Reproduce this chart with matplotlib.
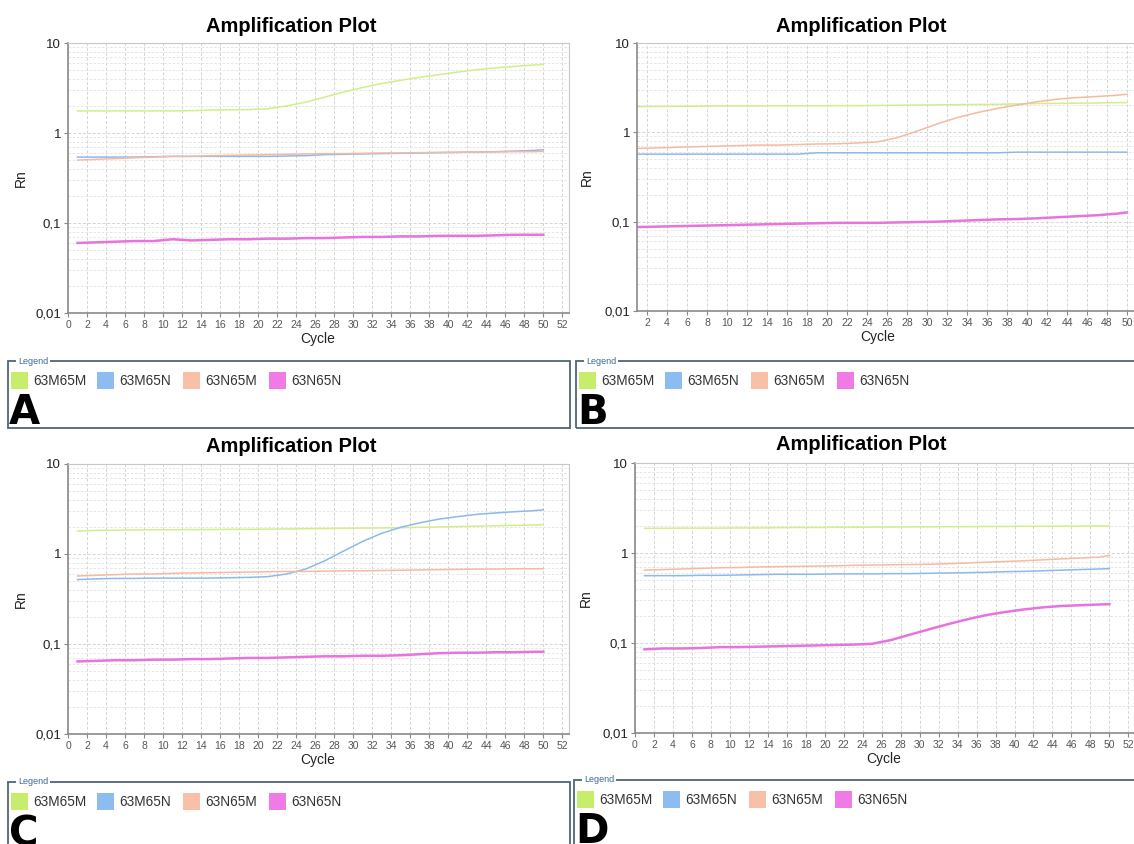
import matplotlib
matplotlib.use("Agg")
import matplotlib.pyplot as plt
from matplotlib import ticker
from matplotlib.patches import Rectangle

W, H = 1134, 844

cycles = [1, 3, 5, 7, 9, 11, 13, 15, 17, 19, 21, 23, 25, 27, 29, 31, 33, 35, 37, 39, 41, 43, 45, 47, 49, 50]
series_names = ["63M65M", "63M65N", "63N65M", "63N65N"]
series_colors = ["#d2ee88", "#8cb9ec", "#f6baa0", "#e873dc"]
patch_colors = ["#c6ee6c", "#8dbcf0", "#f9c0a8", "#f07ae6"]

# panel A
a_m65m = [1.76, 1.76, 1.76, 1.76, 1.76, 1.76, 1.77, 1.80, 1.81, 1.82, 1.86, 2.0, 2.2, 2.5, 2.85, 3.2,
          3.55, 3.85, 4.15, 4.45, 4.75, 5.05, 5.3, 5.5, 5.7, 5.8]
a_m65n = [0.54, 0.54, 0.54, 0.54, 0.545, 0.55, 0.55, 0.55, 0.55, 0.55, 0.55, 0.555, 0.56, 0.575, 0.58,
          0.585, 0.59, 0.595, 0.6, 0.605, 0.61, 0.615, 0.62, 0.63, 0.64, 0.65]
a_n65m = [0.50, 0.51, 0.52, 0.53, 0.54, 0.55, 0.55, 0.56, 0.565, 0.57, 0.575, 0.58, 0.585, 0.59, 0.59,
          0.595, 0.6, 0.6, 0.605, 0.61, 0.61, 0.615, 0.615, 0.62, 0.62, 0.625]
a_n65n = [0.060, 0.061, 0.062, 0.063, 0.063, 0.066, 0.064, 0.065, 0.066, 0.066, 0.067, 0.067, 0.068,
          0.068, 0.069, 0.070, 0.070, 0.071, 0.071, 0.072, 0.072, 0.072, 0.073, 0.074, 0.074, 0.074]

# panel B
b_m65m = [1.94, 1.95, 1.96, 1.96, 1.97, 1.97, 1.97, 1.98, 1.98, 1.98, 1.99, 1.99, 2.0, 2.01, 2.02, 2.03,
          2.04, 2.05, 2.06, 2.08, 2.1, 2.11, 2.12, 2.13, 2.15, 2.15]
b_m65n = [0.57, 0.57, 0.57, 0.57, 0.57, 0.57, 0.57, 0.57, 0.57, 0.59, 0.59, 0.59, 0.59, 0.59, 0.59,
          0.59, 0.59, 0.59, 0.59, 0.6, 0.6, 0.6, 0.6, 0.6, 0.6, 0.6]
b_n65m = [0.66, 0.67, 0.68, 0.69, 0.7, 0.71, 0.72, 0.72, 0.73, 0.74, 0.745, 0.76, 0.78, 0.87, 1.03, 1.24,
          1.46, 1.66, 1.85, 2.02, 2.2, 2.35, 2.45, 2.52, 2.6, 2.67]
b_n65n = [0.087, 0.088, 0.089, 0.090, 0.091, 0.092, 0.093, 0.094, 0.095, 0.096, 0.097, 0.097, 0.097,
          0.098, 0.099, 0.100, 0.102, 0.104, 0.106, 0.107, 0.109, 0.112, 0.115, 0.118, 0.123, 0.127]

# panel C
c_m65m = [1.8, 1.83, 1.84, 1.85, 1.86, 1.86, 1.87, 1.87, 1.88, 1.88, 1.89, 1.9, 1.91, 1.92, 1.93, 1.94,
          1.95, 1.96, 1.98, 2.0, 2.02, 2.04, 2.06, 2.08, 2.1, 2.12]
c_m65n = [0.52, 0.53, 0.535, 0.535, 0.54, 0.54, 0.54, 0.54, 0.545, 0.55, 0.56, 0.6, 0.68, 0.84, 1.08,
          1.38, 1.7, 1.98, 2.22, 2.44, 2.6, 2.76, 2.86, 2.95, 3.03, 3.1]
c_n65m = [0.57, 0.58, 0.59, 0.6, 0.6, 0.61, 0.615, 0.62, 0.625, 0.63, 0.635, 0.64, 0.64, 0.645, 0.65,
          0.65, 0.655, 0.66, 0.665, 0.67, 0.675, 0.68, 0.68, 0.685, 0.685, 0.687]
c_n65n = [0.064, 0.065, 0.066, 0.066, 0.067, 0.067, 0.068, 0.068, 0.069, 0.070, 0.070, 0.071, 0.072,
          0.073, 0.073, 0.074, 0.074, 0.075, 0.077, 0.079, 0.080, 0.080, 0.081, 0.081, 0.082, 0.082]

# panel D
d_m65m = [1.88, 1.88, 1.89, 1.89, 1.89, 1.9, 1.9, 1.91, 1.92, 1.92, 1.93, 1.93, 1.94, 1.94, 1.95, 1.95,
          1.96, 1.96, 1.97, 1.97, 1.98, 1.98, 1.99, 1.99, 2.0, 2.0]
d_m65n = [0.56, 0.56, 0.56, 0.565, 0.565, 0.57, 0.575, 0.58, 0.58, 0.58, 0.585, 0.585, 0.585, 0.59,
          0.59, 0.595, 0.6, 0.605, 0.61, 0.62, 0.625, 0.635, 0.645, 0.655, 0.665, 0.67]
d_n65m = [0.645, 0.655, 0.665, 0.675, 0.685, 0.69, 0.7, 0.705, 0.71, 0.715, 0.72, 0.73, 0.735, 0.74,
          0.745, 0.75, 0.76, 0.775, 0.79, 0.805, 0.82, 0.84, 0.86, 0.88, 0.9, 0.94]
d_n65n = [0.085, 0.087, 0.087, 0.088, 0.09, 0.09, 0.091, 0.092, 0.093, 0.094, 0.095, 0.096, 0.098, 0.108,
          0.124, 0.142, 0.162, 0.183, 0.204, 0.221, 0.236, 0.249, 0.258, 0.263, 0.268, 0.27]

panel_letters = ["A", "B", "C", "D"]
panel_data = [
    [a_m65m, a_m65n, a_n65m, a_n65n],
    [b_m65m, b_m65n, b_n65m, b_n65n],
    [c_m65m, c_m65n, c_n65m, c_n65n],
    [d_m65m, d_m65n, d_n65m, d_n65n],
]

# pixel boxes (left, top, right, bottom) of plot areas
axes_px = [(68, 43, 569, 313), (637, 43, 1157, 311), (68, 464, 569, 734), (635, 463, 1135, 733)]
xlims = [(0, 52.7), (1, 53), (0, 52.7), (0, 52.7)]
title_px = [(291, 26), (861, 26), (291, 447), (861, 445)]
rn_x = [28, 594, 28, 593]
cycle_x = [318, 878, 318, 884]
legend_px = [(8, 361, 570, 428), (576, 361, 1140, 428), (8, 782, 570, 860), (574, 780, 1140, 860)]

plt.rcParams['font.family'] = ['Liberation Sans', 'DejaVu Sans']

fig = plt.figure(figsize=(W / 100, H / 100), dpi=100)
fig.patch.set_facecolor("white")


def fx(px):
    return px / W


def fy(py):
    return 1 - py / H


for i in range(4):
    l, t, r, b = axes_px[i]
    ax = fig.add_axes([fx(l), fy(b), (r - l) / W, (b - t) / H])
    for k in range(4):
        lw = 1.8 if k == 3 else 1.1
        ax.plot(cycles, panel_data[i][k], color=series_colors[k], lw=lw)
    ax.set_yscale("log")
    ax.set_ylim(0.01, 10)
    ax.set_xlim(*xlims[i])
    start = 0 if xlims[i][0] <= 0 else 2
    ax.set_xticks(list(range(start, 53, 2)))
    ax.xaxis.set_minor_locator(ticker.NullLocator())
    ax.yaxis.set_major_locator(ticker.FixedLocator([0.01, 0.1, 1, 10]))
    ax.yaxis.set_minor_locator(ticker.LogLocator(base=10, subs=range(2, 10)))
    ax.yaxis.set_major_formatter(ticker.FuncFormatter(lambda v, p: ("%g" % v).replace(".", ",")))
    ax.yaxis.set_minor_formatter(ticker.NullFormatter())
    ax.grid(True, which="major", color="#d4d4d4", ls=(0, (3, 2)), lw=0.7)
    ax.grid(True, which="minor", axis="y", color="#e2e2e2", ls=(0, (3, 2)), lw=0.6)
    ax.set_axisbelow(True)
    ax.tick_params(axis="x", labelsize=7.5, labelcolor="#555555", color="#888888", length=3, pad=2)
    ax.tick_params(axis="y", which="major", labelsize=9.5, labelcolor="#222222", color="#888888", length=3, pad=2)
    ax.tick_params(axis="y", which="minor", length=0)
    for s in ["left", "bottom"]:
        ax.spines[s].set_color("#8a8a8a")
        ax.spines[s].set_linewidth(1.2)
    for s in ["top", "right"]:
        ax.spines[s].set_color("#c8c8c8")
        ax.spines[s].set_linewidth(0.8)
    ax.set_xlabel("Cycle", fontsize=10, color="#222222")
    ax.set_ylabel("Rn", fontsize=10, color="#222222")
    ax.yaxis.set_label_coords((rn_x[i] - l) / (r - l), 0.5)
    ax.xaxis.set_label_coords((cycle_x[i] - l) / (r - l), -(19 / (b - t)))

    tx, ty = title_px[i]
    fig.text(fx(tx), fy(ty), "Amplification Plot", fontsize=14.5, fontweight="bold",
             ha="center", va="center")

    # legend frame
    ll, lt, lr, lb = legend_px[i]
    fig.patches.append(Rectangle((fx(ll), fy(lb)), (lr - ll) / W, (lb - lt) / H,
                                 transform=fig.transFigure, fill=False,
                                 edgecolor="#4f6676", lw=1.3))
    fig.text(fx(ll + 10), fy(lt), "Legend", fontsize=6.5, color="#3d6a99", ha="left", va="center",
             bbox=dict(facecolor="white", edgecolor="none", pad=1.5))
    for k in range(4):
        px0 = ll + 3 + k * 86
        fig.patches.append(Rectangle((fx(px0), fy(lt + 28)), 17 / W, 17 / H,
                                     transform=fig.transFigure, facecolor=patch_colors[k],
                                     edgecolor="none"))
        fig.text(fx(px0 + 22), fy(lt + 20), series_names[k], fontsize=9.8, color="#333333",
                 ha="left", va="center")
    fig.text(fx(ll + 1), fy(lt + 52), panel_letters[i], fontsize=29, fontweight="bold",
             family="DejaVu Sans", ha="left", va="center")

fig.savefig("out.png", dpi=100, facecolor="white")
